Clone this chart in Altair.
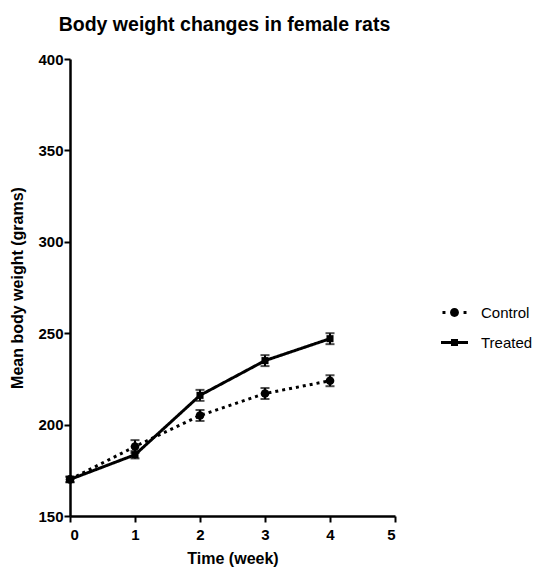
import altair as alt
import pandas as pd

weeks = [0, 1, 2, 3, 4]
control_mean = [170, 188, 205, 217, 224]
control_err = [1.5, 3.5, 3, 3, 3]
treated_mean = [170, 183.5, 216, 235, 247]
treated_err = [1.5, 2, 3, 3, 3]
groups = ["Control", "Treated"]
x_ticks = [0, 1, 2, 3, 4, 5]
y_ticks = [150, 200, 250, 300, 350, 400]

rows = []
for g, means, errs in [("Control", control_mean, control_err), ("Treated", treated_mean, treated_err)]:
    for w, m, e in zip(weeks, means, errs):
        rows.append({"week": w, "weight": m, "lo": m - e, "hi": m + e, "group": g})
df = pd.DataFrame(rows)

control_path = ("M-0.89,-0.11H-0.67V0.11H-0.89Z M0.67,-0.11H0.89V0.11H0.67Z "
                "M-0.33,0A0.33,0.33 0 1,0 0.33,0A0.33,0.33 0 1,0 -0.33,0Z")
treated_path = ("M-1,-0.11H-0.26V0.11H-1Z M0.26,-0.11H1V0.11H0.26Z "
                "M-0.26,-0.26H0.26V0.26H-0.26Z")

xenc = alt.X("week:Q", title="Time (week)",
             scale=alt.Scale(domain=[0, 5], nice=False),
             axis=alt.Axis(values=x_ticks, format="d", labelPadding=5, titlePadding=8))
yenc = alt.Y("weight:Q", title="Mean body weight (grams)",
             scale=alt.Scale(domain=[150, 400], nice=False),
             axis=alt.Axis(values=y_ticks, labelPadding=1, titlePadding=12))

base = alt.Chart(df)

# legend carrier layer (drawn beneath the real markers, which cover it)
legend_layer = base.mark_point(filled=True, color="black", opacity=1).encode(
    x=xenc, y=yenc,
    shape=alt.Shape("group:N",
                    scale=alt.Scale(domain=groups, range=[control_path, treated_path]),
                    legend=alt.Legend(title=None, orient="none", legendX=371, legendY=240,
                                      symbolSize=729, symbolFillColor="black",
                                      symbolOpacity=1, symbolStrokeWidth=0,
                                      labelFontSize=15, labelFont="Liberation Sans",
                                      labelColor="black", labelOffset=13, rowPadding=8)),
)

lines = base.mark_line(color="black", strokeWidth=3).encode(
    x="week:Q", y="weight:Q",
    strokeDash=alt.StrokeDash("group:N",
                              scale=alt.Scale(domain=groups, range=[[3, 4], [1, 0]]),
                              legend=None),
    detail="group:N",
)

rules = base.mark_rule(color="black", strokeWidth=2).encode(x="week:Q", y="lo:Q", y2="hi:Q")
cap_lo = base.mark_tick(color="black", thickness=2, size=9, orient="horizontal").encode(x="week:Q", y="lo:Q")
cap_hi = base.mark_tick(color="black", thickness=2, size=9, orient="horizontal").encode(x="week:Q", y="hi:Q")

pts_c = base.transform_filter(alt.datum.group == "Control").mark_point(
    shape="circle", filled=True, color="black", size=75, opacity=1).encode(x="week:Q", y="weight:Q")
pts_t = base.transform_filter(alt.datum.group == "Treated").mark_point(
    shape="square", filled=True, color="black", size=50, opacity=1).encode(x="week:Q", y="weight:Q")

chart = alt.layer(legend_layer, lines, rules, cap_lo, cap_hi, pts_t, pts_c).properties(
    width=325, height=457,
    autosize=alt.AutoSizeParams(type="none"),
    padding={"left": 62, "top": 51, "right": 139, "bottom": 52},
    title=alt.TitleParams("Body weight changes in female rats", font="Liberation Sans",
                          fontSize=19.5, fontWeight="bold", color="black",
                          anchor="middle", dx=-8, offset=17),
).configure_view(stroke=None).configure_axis(
    grid=False, domainColor="black", domainWidth=2.5, tickColor="black", tickWidth=2,
    tickSize=6, labelFont="Liberation Sans", labelFontSize=15, labelFontWeight="bold",
    labelColor="black", titleFont="Liberation Sans", titleFontSize=16,
    titleFontWeight="bold", titleColor="black",
)

chart.save("out.html", embed_options={"renderer": "svg", "actions": False})
